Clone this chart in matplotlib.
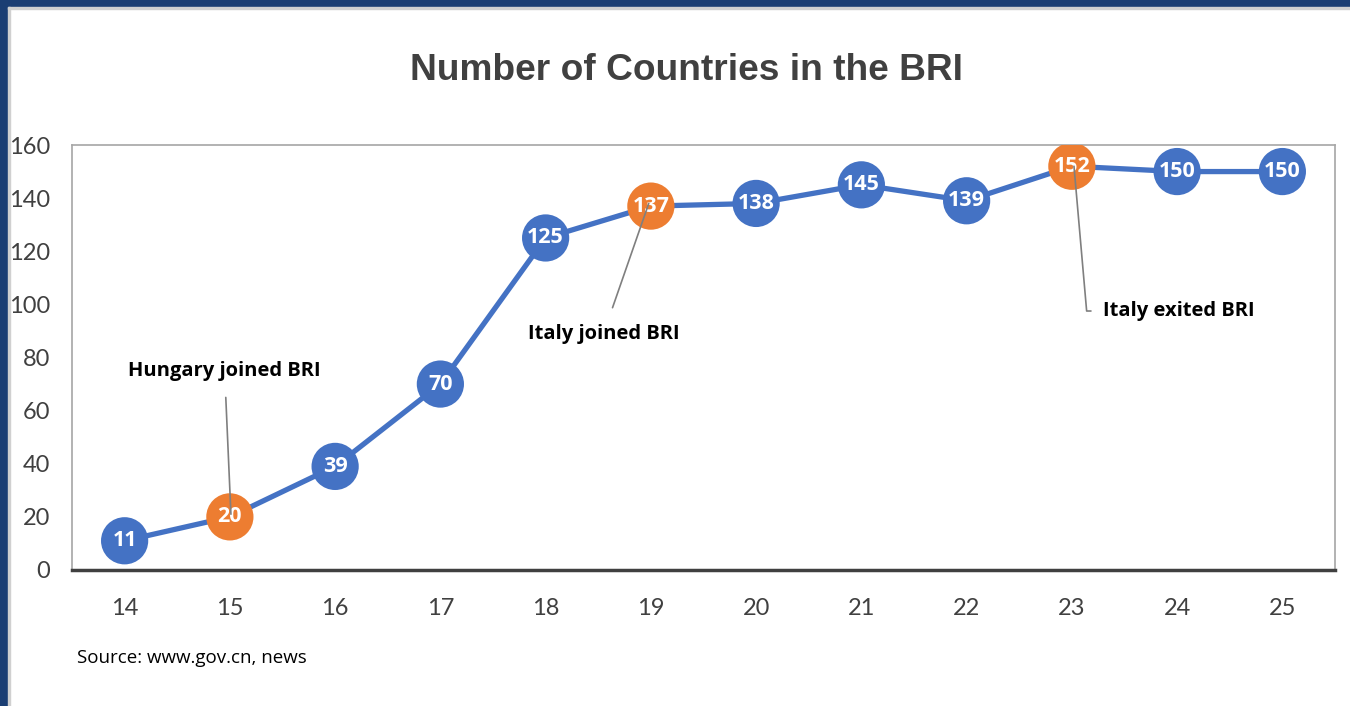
import matplotlib
matplotlib.use("Agg")
import matplotlib.pyplot as plt
from matplotlib.patches import Rectangle

years = [14, 15, 16, 17, 18, 19, 20, 21, 22, 23, 24, 25]
counts = [11, 20, 39, 70, 125, 137, 138, 145, 139, 152, 150, 150]
highlight_years = [15, 19, 23]
y_ticks = [0, 20, 40, 60, 80, 100, 120, 140, 160]
title = "Number of Countries in the BRI"
source = "Source: www.gov.cn, news"

BLUE = "#4472C4"
ORANGE = "#ED7D31"
GRAY_TXT = "#404040"

plt.rcParams['font.family'] = ['Lato', 'DejaVu Sans']

fig = plt.figure(figsize=(13.5, 7.06), dpi=100)
W, H = 1350, 706

# border bands
fig.patches.append(Rectangle((0, 1 - 7 / H), 1, 7 / H, transform=fig.transFigure, color="#1B3E73", zorder=0))
fig.patches.append(Rectangle((0, 0), 8 / W, 1, transform=fig.transFigure, color="#1B3E73", zorder=0))
fig.patches.append(Rectangle((8 / W, 1 - 9 / H), 1, 2 / H, transform=fig.transFigure, color="#D0D0D0", zorder=0))
fig.patches.append(Rectangle((8 / W, 0), 2 / W, 1 - 7 / H, transform=fig.transFigure, color="#D0D0D0", zorder=0))

ax = fig.add_axes([72 / W, (H - 570) / H, (1335 - 72) / W, (570 - 145) / H])
ax.set_xlim(13.5, 25.5)
ax.set_ylim(0, 160)

ax.plot(years, counts, color=BLUE, lw=3.8, zorder=2)
colors = [ORANGE if y in highlight_years else BLUE for y in years]
ax.scatter(years, counts, s=34 ** 2, c=colors, zorder=3, linewidths=0)
for x, v in zip(years, counts):
    ax.text(x, v, str(v), color="white", fontsize=15.5, fontweight="bold",
            ha="center", va="center", zorder=4, family=["Open Sans", "DejaVu Sans"])

ax.set_xticks(years)
ax.set_xticklabels([str(y) for y in years])
ax.set_yticks(y_ticks)
ax.tick_params(axis="both", length=0, labelsize=17, colors=GRAY_TXT)
ax.tick_params(axis="x", pad=20)
ax.tick_params(axis="y", pad=16)

for s in ["top", "right", "left"]:
    ax.spines[s].set_color("#A6A6A6")
    ax.spines[s].set_linewidth(1.2)
ax.spines["bottom"].set_color(GRAY_TXT)
ax.spines["bottom"].set_linewidth(2.5)

# annotations
ann_kw = dict(fontsize=14.5, fontweight="bold", color="black", family=["Open Sans", "DejaVu Sans"])
ax.annotate("Hungary joined BRI", xy=(15.01, 21), xytext=(14.95, 75),
            ha="center", va="center", zorder=5,
            arrowprops=dict(arrowstyle="-", color="#7F7F7F", lw=1.2, shrinkA=10, shrinkB=0), **ann_kw)
ax.annotate("Italy joined BRI", xy=(18.98, 138), xytext=(18.55, 89),
            ha="center", va="center", zorder=5,
            arrowprops=dict(arrowstyle="-", color="#7F7F7F", lw=1.2, shrinkA=10, shrinkB=0), **ann_kw)
ax.annotate("Italy exited BRI", xy=(23.02, 152), xytext=(23.3, 97.5),
            ha="left", va="center", zorder=5,
            arrowprops=dict(arrowstyle="-", color="#7F7F7F", lw=1.2, shrinkA=7, shrinkB=0,
                            connectionstyle="angle,angleA=180,angleB=95,rad=0",
                            relpos=(0, 0.5)), **ann_kw)

fig.text(687 / W, 1 - 71 / H, title, ha="center", va="center", fontsize=26.7,
         fontweight="bold", color=GRAY_TXT, family=["Liberation Sans", "DejaVu Sans"])
fig.text(77 / W, 1 - 658 / H, source, ha="left", va="center", fontsize=13.5,
         color="black", family=["Open Sans", "DejaVu Sans"])

fig.savefig("out.png", dpi=100)
